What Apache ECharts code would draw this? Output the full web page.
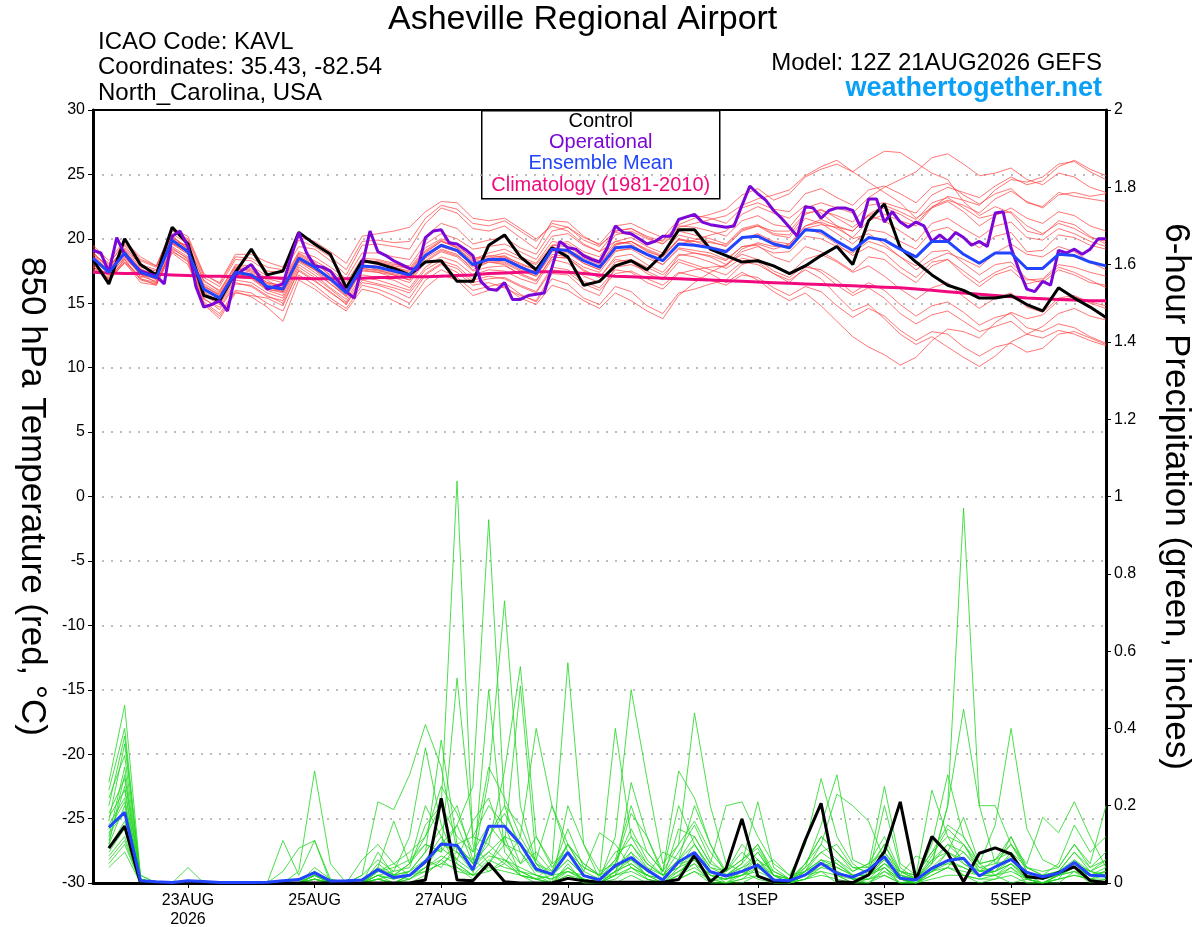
<!DOCTYPE html>
<html>
<head>
<meta charset="UTF-8">
<title>Asheville Regional Airport</title>
<script src="https://cdn.jsdelivr.net/npm/echarts@6/dist/echarts.min.js"></script>
<style>
    html, body { margin: 0; padding: 0; background: #fff; }
    #main { width: 1200px; height: 927px; }
</style>
</head>
<body>
<div id="main"></div>
<script>
// forecast hours from 12Z 21AUG2026
var tickHours = [36, 84, 132, 180, 252, 300, 348];
var tickLabels = ['23AUG\n2026', '25AUG', '27AUG', '29AUG', '1SEP', '3SEP', '5SEP'];

// 850 hPa temperature, every 6 h from hour 0
var controlTemp = [18.4,16.5,20.0,18.0,17.2,20.9,19.6,15.6,15.2,17.4, 19.2,17.2,17.5,20.5,19.6,18.8,16.2,18.3,18.1,17.7,
    17.2,18.2,18.3,16.7,16.7,19.5,20.3,18.6,17.6,19.3, 18.6,16.4,16.7,17.9,18.3,17.6,18.8,20.7,20.7,19.2,
    18.7,18.2,18.3,17.9,17.3,17.9,18.7,19.4,18.0,21.4, 22.7,19.3,18.2,17.2,16.4,16.0,15.4,15.4,15.6,14.9,
    14.4,16.2,15.4,14.7,13.9];
var meanTemp = [18.5,17.4,18.9,17.4,17.0,19.9,19.0,16.1,15.4,17.4, 17.2,16.3,16.1,18.5,17.8,16.9,15.8,17.9,17.8,17.5,
    17.2,18.7,19.5,19.1,18.0,18.4,18.4,17.8,17.3,19.2, 19.1,18.3,17.8,19.3,19.4,18.8,18.3,19.6,19.5,19.3,
    19.0,20.1,20.2,19.6,19.3,20.7,20.6,19.8,19.1,20.1, 19.9,19.2,18.6,19.8,19.8,18.8,18.1,18.9,18.9,17.7,
    17.7,18.8,18.7,18.2,17.9];
var climoTemp = [17.4,17.35,17.3,17.3,17.25,17.2,17.15,17.1,17.1,17.05, 17.0,17.0,16.95,16.95,16.9,16.9,16.9,16.95,17.0,17.0,
    17.05,17.05,17.1,17.15,17.2,17.3,17.35,17.4,17.45,17.45, 17.4,17.3,17.2,17.1,17.05,17.0,16.95,16.9,16.85,16.8,
    16.75,16.7,16.65,16.6,16.55,16.5,16.45,16.4,16.35,16.3, 16.25,16.2,16.1,16.0,15.9,15.8,15.7,15.6,15.5,15.4,
    15.35,15.3,15.25,15.2,15.2];
// operational run, every 3 h from hour 0
var operTemp = [19.1,18.9,17.4,20.1,18.8,18.1,17.5,17.3,17.1,16.5, 20.2,20.6,19.4,16.3,14.7,14.9,15.2,14.4,17.2,17.6,
    18.0,17.1,16.1,16.3,16.5,18.5,20.5,18.9,17.9,17.8, 17.5,16.7,15.9,15.4,17.9,20.6,19.0,18.7,18.3,18.0,
    17.7,17.6,20.1,20.6,20.7,19.7,19.6,19.2,18.7,16.7, 16.1,16.0,16.6,15.3,15.3,15.6,15.7,15.8,17.8,19.8,
    19.3,19.2,18.7,18.4,18.2,19.3,21.0,20.5,20.4,20.0, 19.6,19.8,20.2,20.2,21.5,21.7,21.9,21.3,21.1,21.0,
    20.9,21.0,22.6,24.1,23.5,23.0,22.2,21.6,20.9,20.2, 22.5,22.4,21.6,22.2,22.4,22.4,22.2,20.9,23.1,23.1,
    21.3,22.1,21.3,20.9,21.3,21.0,19.8,20.3,19.8,20.5, 20.1,19.5,19.8,19.4,22.0,22.1,19.3,17.6,16.1,15.9,
    16.7,16.4,19.1,18.9,19.2,18.8,19.2,20.0,20.0];

// ensemble members, temperature
var tempMembers = [
    [18.9,17.8,19.3,18.0,17.6,20.4,19.6,16.8,15.9,18.0,17.9, 17.1,16.8,19.0,18.6,17.8,16.9,18.9,18.9,18.6,18.4,20.2,
     21.2,20.8,19.6,19.9,20.1,19.3,18.8,20.6,20.9,20.1,19.6, 21.0,21.2,20.6,20.1,21.5,21.8,21.6,21.2,22.4,22.8,22.3,
     22.1,23.5,23.9,23.2,22.6,23.8,24.1,23.5,22.8,24.0,24.3, 23.4,22.7,23.5,23.9,22.8,22.5,23.6,23.3,23.1,22.9],
    [18.0,16.9,18.4,16.8,16.5,19.3,18.4,15.3,14.7,16.6,16.3, 15.5,15.2,17.8,17.0,16.1,15.1,17.0,16.8,16.4,16.0,17.6,
     18.3,17.9,16.8,17.1,16.9,16.3,15.8,17.6,17.4,16.5,16.0, 17.3,17.5,16.9,16.4,17.4,17.1,16.8,16.4,17.2,17.0,16.2,
     15.6,16.3,15.9,14.8,13.9,14.6,14.0,12.9,12.1,12.8,12.6, 11.6,10.9,11.6,11.9,11.2,11.5,12.6,12.8,12.3,11.8],
    [19.2,18.1,19.6,18.3,17.8,20.7,19.9,17.0,16.3,18.4,18.3, 17.5,17.4,19.4,19.2,18.3,17.2,19.5,19.6,19.4,19.2,21.2,
     22.4,22.0,20.8,20.6,21.0,20.1,19.2,21.4,21.3,20.2,19.5, 20.5,20.3,19.7,19.9,21.1,21.6,21.9,22.3,23.4,23.9,23.0,
     23.5,24.8,25.4,25.8,25.2,26.1,26.8,26.7,25.9,25.1,24.6, 22.9,21.8,22.5,22.0,20.6,20.3,21.4,21.1,20.2,19.6],
    [17.6,17.0,18.2,17.1,16.7,19.0,18.3,15.1,14.2,16.0,15.8, 15.0,14.4,17.2,16.4,15.4,14.6,16.4,16.1,15.6,15.0,16.8,
     17.6,17.0,16.0,16.3,16.6,15.7,15.1,16.9,16.5,15.4,14.9, 16.3,15.9,14.8,14.2,15.8,16.1,16.5,16.8,18.0,18.4,17.9,
     17.3,18.4,18.8,18.2,17.4,17.9,17.1,16.1,15.3,16.2,16.6, 15.5,14.6,15.4,15.8,14.7,14.3,15.4,15.6,15.0,14.6],
    [19.0,17.6,19.5,17.9,17.3,20.3,19.1,16.4,15.6,17.6,17.6, 16.6,16.4,18.8,18.2,17.1,16.1,18.4,18.2,17.9,17.7,19.3,
     20.0,19.6,18.4,18.9,19.2,18.6,18.1,19.8,19.6,18.8,18.3, 19.8,20.1,19.4,18.9,20.3,20.0,19.8,19.4,20.6,21.0,20.3,
     20.1,21.6,21.2,20.4,19.6,20.7,20.5,19.8,19.2,20.6,20.9, 20.1,19.3,20.2,20.5,19.0,19.1,20.3,20.1,19.5,19.2],
    [18.2,17.1,18.6,17.2,16.9,19.6,18.8,15.8,15.0,17.0,16.9, 16.0,15.6,18.2,17.4,16.5,15.5,17.5,17.4,17.0,16.6,18.2,
     19.0,18.6,17.5,17.8,17.9,17.3,16.8,18.6,18.5,17.6,17.0, 18.6,18.8,18.0,17.4,18.8,18.6,18.2,17.7,18.5,18.2,17.3,
     16.8,17.6,16.9,15.6,14.4,14.9,13.8,12.6,11.8,12.4,11.6, 10.8,10.1,10.9,12.0,12.6,13.2,14.2,14.6,14.0,13.7],
    [18.7,17.5,18.8,17.6,17.2,20.0,19.3,16.2,15.2,17.3,17.0, 16.3,15.9,18.4,17.6,17.0,15.9,17.8,18.0,17.8,17.4,18.9,
     19.8,19.4,18.5,18.6,18.9,18.4,18.0,19.5,19.8,19.0,18.6, 20.3,20.6,20.0,19.6,20.9,21.2,21.5,21.8,22.6,23.1,23.4,
     23.8,24.9,25.6,26.1,25.2,24.4,23.6,22.8,21.6,22.4,22.9, 22.1,21.0,21.8,22.4,21.6,21.2,22.1,21.8,21.0,20.6],
    [18.4,17.3,18.7,17.5,16.8,19.7,19.0,16.0,15.4,17.1,17.0, 16.1,15.8,18.3,17.6,16.5,15.6,17.6,17.4,17.2,16.8,18.3,
     19.1,18.7,17.8,18.2,18.0,17.2,16.7,18.6,18.5,17.5,17.0, 18.4,18.2,17.3,16.8,18.2,17.8,17.3,16.6,17.4,16.8,15.9,
     15.2,15.8,14.8,13.6,12.4,11.6,11.0,10.2,10.8,12.1,13.0, 12.8,12.3,13.5,14.3,13.8,14.1,15.2,15.5,15.1,14.8],
    [18.3,17.7,19.1,17.0,17.4,19.6,19.2,16.5,15.8,17.8,17.5, 16.8,16.1,18.6,18.0,17.4,16.3,18.0,17.6,17.2,16.8,18.5,
     19.2,18.8,17.6,18.2,18.1,17.5,17.1,18.8,18.6,17.8,17.4, 19.0,19.3,18.7,18.0,19.3,19.1,18.9,18.4,19.4,19.6,19.2,
     19.6,21.0,21.5,21.0,20.6,21.8,22.4,21.9,21.2,22.5,23.0, 22.6,22.0,23.1,23.7,22.9,22.4,23.4,23.6,23.3,23.5],
    [17.9,16.7,18.2,16.6,16.4,19.1,18.2,14.9,13.8,15.8,15.6, 15.4,14.8,17.6,16.8,15.8,15.0,16.6,16.4,16.0,15.4,17.2,
     18.0,17.4,16.4,16.6,16.2,15.6,15.2,17.3,17.2,16.1,15.6, 17.8,18.0,17.5,16.9,18.7,18.9,18.7,18.3,19.4,19.5,18.6,
     18.2,19.4,19.0,18.3,17.5,18.6,18.4,17.4,16.6,17.9,18.4, 17.2,16.3,17.2,17.6,16.5,16.8,17.8,17.4,16.8,16.2],
    [19.5,18.3,19.9,18.4,17.9,20.8,20.2,17.3,16.5,18.6,18.5, 17.8,17.6,19.9,19.4,18.6,17.6,19.8,19.9,19.7,19.8,21.6,
     22.6,22.3,21.2,21.0,21.4,20.6,19.8,21.2,20.9,19.9,19.4, 20.6,20.8,20.1,19.6,20.6,20.3,20.0,19.6,20.8,21.1,20.4,
     20.3,21.9,22.3,21.6,20.9,21.8,21.4,20.6,19.8,21.2,21.6, 20.8,20.1,21.0,21.3,20.1,19.9,20.8,20.4,19.8,19.4],
    [17.8,17.2,18.5,17.3,16.6,19.4,18.6,15.6,14.9,16.8,16.6, 15.8,15.4,18.0,17.2,16.2,15.3,17.2,17.0,16.8,16.2,17.8,
     18.6,18.2,17.2,17.6,17.5,16.9,16.5,18.4,18.1,17.1,16.6, 18.2,18.4,17.8,17.2,18.4,18.0,17.6,17.2,18.2,18.0,17.3,
     16.6,17.8,17.6,16.8,15.8,16.6,16.0,14.9,14.0,14.8,15.1, 14.3,13.3,13.9,14.2,13.1,12.8,13.4,13.1,12.4,11.9],
    [18.6,17.4,19.0,17.7,17.1,20.1,19.4,16.3,15.7,17.5,17.3, 16.5,16.2,18.5,17.9,16.8,15.9,18.1,18.3,18.0,17.9,19.6,
     20.4,20.0,19.2,19.4,19.6,19.0,18.4,20.2,20.4,19.5,19.0, 20.6,20.8,20.2,19.8,21.0,20.9,20.6,20.2,21.4,21.8,21.1,
     20.9,22.4,22.8,22.4,22.0,23.2,24.0,24.6,25.2,26.3,26.6, 25.8,24.9,25.1,25.5,24.6,24.2,25.1,24.8,24.0,23.6],
    [18.1,16.8,18.4,16.9,16.6,19.2,18.5,15.4,14.5,16.5,16.4, 15.6,15.0,17.5,16.7,15.9,14.9,16.8,16.5,16.2,15.8,17.3,
     18.1,17.7,16.6,16.9,17.0,16.4,15.9,17.8,17.6,16.7,16.2, 17.6,17.4,16.6,16.1,17.3,17.6,17.8,17.9,19.0,19.4,18.9,
     19.0,20.2,20.0,19.4,18.9,19.8,19.4,18.6,17.9,19.0,19.1, 18.1,17.2,18.0,18.2,16.9,16.6,17.6,17.2,16.6,16.4],
    [18.8,17.9,19.2,17.8,17.5,19.8,19.5,16.7,16.0,17.9,17.7, 16.9,16.6,18.9,18.3,17.6,16.6,18.5,18.4,18.1,17.6,19.1,
     19.9,19.3,18.2,18.5,18.7,18.0,17.6,19.4,19.0,18.1,17.6, 19.5,19.8,19.0,18.6,20.0,19.8,19.4,19.1,20.1,20.3,19.7,
     19.4,20.8,20.4,19.6,18.7,19.4,18.9,17.8,17.0,18.2,18.4, 17.5,16.6,17.4,17.9,16.8,16.9,18.0,17.8,17.4,17.1],
    [18.4,17.6,18.9,17.4,17.0,19.8,18.9,16.1,15.5,17.2,17.1, 16.2,16.0,18.4,17.8,16.9,15.7,17.7,17.6,17.4,17.1,18.6,
     19.4,19.0,18.0,18.4,18.6,17.9,17.4,19.2,19.2,18.5,18.0, 19.6,19.8,19.1,18.6,19.9,19.8,19.7,19.5,20.7,21.0,20.6,
     20.6,22.0,22.2,21.8,21.3,22.6,22.8,22.4,22.0,23.4,24.0, 23.6,23.2,24.1,24.8,24.2,24.5,25.6,26.1,25.4,24.9],
    [19.4,18.0,19.8,18.6,17.9,20.6,20.0,17.2,16.6,18.8,18.8, 18.2,17.8,20.1,19.8,19.0,18.1,20.2,20.4,20.6,20.9,22.1,
     22.9,22.8,21.6,21.4,21.6,20.8,20.0,21.0,20.6,19.6,19.0, 19.8,19.6,18.8,18.4,19.6,19.9,20.3,20.6,21.9,22.5,22.0,
     21.6,22.6,22.0,21.0,20.0,20.4,19.6,18.6,17.6,18.4,18.9, 18.4,17.8,18.9,19.6,18.8,18.6,19.4,19.0,18.2,17.6],
    [17.7,16.9,18.1,16.9,16.4,18.9,18.0,15.0,14.0,15.9,15.5, 14.7,13.6,16.8,16.1,15.2,14.4,16.1,15.8,15.2,14.6,16.2,
     17.2,16.8,15.6,16.0,16.3,15.4,14.9,16.4,16.0,15.2,14.6, 15.8,15.2,14.4,13.8,15.6,16.6,17.4,18.0,19.2,19.7,19.4,
     19.5,20.8,21.1,20.9,20.6,21.9,22.6,22.1,21.5,22.8,23.2, 22.4,21.6,21.9,22.1,21.0,20.4,21.2,20.8,20.1,19.8],
    [18.6,17.3,18.8,17.3,16.9,19.7,18.8,15.9,15.1,17.2,17.0, 16.1,15.9,18.3,17.6,16.7,15.6,17.7,17.5,17.3,17.0,18.6,
     19.4,19.0,17.9,18.3,18.2,17.6,17.1,19.0,18.9,18.1,17.6, 19.1,19.2,18.5,18.0,19.2,18.9,18.6,18.0,18.8,18.4,17.5,
     17.0,18.0,17.4,16.4,15.6,16.2,15.4,14.2,13.4,14.1,14.4, 13.6,12.8,13.2,13.6,12.6,12.3,12.9,12.6,12.1,11.7],
    [18.8,17.5,19.1,17.6,17.2,20.2,19.2,16.3,15.6,17.7,17.4, 16.6,16.3,18.7,18.1,17.2,16.2,18.2,18.1,17.8,17.5,19.0,
     19.8,19.3,18.3,18.7,18.6,18.1,17.6,19.5,19.4,18.6,18.1, 19.6,19.8,19.2,18.7,20.0,19.6,19.3,18.9,20.0,20.4,19.8,
     19.6,21.0,21.3,20.8,20.1,21.4,21.9,21.4,21.0,22.4,23.3, 23.0,22.6,23.8,24.6,24.4,24.8,25.8,26.0,25.2,24.6]
];

// 6-hour precipitation (inches), every 6 h from hour 6
var controlPrecip = [.09,.147,0,0,0,0,0,0, 0,0,0,0,0,0,0,0, 0,0,0,0,.008,.219,.008,.006,
    .051,.003,0,0,0,.012,.006,.002, .002,.002,.002,.002,.009,.072,.003,.038, .166,.018,.003,.003,.111,.206,.003,.001,
    .021,.081,.210,.008,.120,.077,.003,.077, .091,.075,.016,.012,.027,.042,.006,.001];
var meanPrecip = [.144,.183,.006,.003,.001,.006,.004,.001, .001,.001,.002,.006,.009,.027,.005,.006,
    .008,.035,.014,.020,.055,.101,.097,.034, .147,.147,.101,.036,.023,.079,.019,.008,
    .045,.066,.034,.008,.055,.079,.029,.018, .030,.046,.008,.006,.021,.051,.025,.015,
    .034,.068,.012,.008,.038,.058,.064,.018, .042,.061,.027,.016,.025,.053,.020,.018];
var precipMembers = [
    [.12,.30,.01,0,0,0,0,0, 0,0,0,0,0,.02,0,0, 0,.03,.05,.08,.12,.20,1.04,.10, .05,.12,.02,0,0,.05,0,0,
     .02,.08,.01,0,.04,.06,.01,0, .03,.01,0,0,.02,.05,.02,0, 0,.04,0,0,.03,.06,.02,0, .01,.04,0,0,.02,.03,0,.01],
    [.26,.46,.02,0,0,0,0,0, 0,0,0,0,0,0,0,0, 0,0,0,.02,.05,.10,.15,.25, .94,.20,.08,.02,0,.02,0,0,
     0,.02,0,0,.01,.03,0,0, 0,.02,0,0,.01,.03,0,0, .02,.05,.01,0,.04,.08,.17,.05, .02,0,.01,0,0,.03,.01,0],
    [.08,.14,0,0,0,0,0,0, 0,0,0,0,0,.02,0,0, 0,0,0,0,.02,.06,.10,.05, .27,.73,.20,.05,0,.02,.01,0,
     .01,.04,.02,0,.03,.05,0,0, .01,.04,.01,0,.03,.06,.02,0, 0,.03,0,.01,.05,.20,.97,.20, .05,.06,.01,0,.02,.04,.02,.02],
    [.20,.38,.01,0,0,0,0,0, 0,0,0,.11,.02,.11,.01,0, 0,.01,.02,.05,.10,.08,.53,.12, .10,.29,.56,.12,.05,.57,.10,.01,
     .03,.10,.04,0,.02,.08,.03,0, .02,.05,0,0,.03,.05,.03,.01, 0,.02,0,0,.04,.05,.08,.03, .03,.05,.01,.02,.03,.05,.01,.03],
    [.15,.22,0,0,0,0,0,0, 0,0,0,0,0,.03,0,0, .02,.21,.19,.28,.41,.30,.08,.06, .03,.05,.12,.40,.20,.10,.05,.02,
     .40,.12,.05,.02,.04,.10,.04,.02, .05,.10,.02,0,.01,.04,.06,.02, .02,.06,.01,0,.02,.04,.10,.04, .03,.08,.02,0,.01,.06,.02,.04],
    [.05,.10,0,0,0,0,0,0, 0,0,0,0,0,.01,0,0, 0,.05,.02,.03,.08,.37,.10,.05, .10,.06,.03,.01,.02,.06,.02,.01,
     .12,.50,.27,.05,.10,.44,.20,.05, .03,.06,.01,0,.02,.04,.03,.01, .01,.05,.02,0,.03,.06,.04,.02, .02,.05,.01,0,.02,.04,.02,.02],
    [.18,.27,.01,0,0,0,0,0, 0,0,0,0,.03,.29,.05,0, 0,.02,.03,.12,.35,.15,.05,.02, .50,.08,.03,.01,0,.04,.01,0,
     .02,.26,.12,.03,.29,.22,.10,.02, .05,.21,.04,.01,.02,.06,.05,.02, .03,.10,.02,.01,.03,.08,.05,.03, .04,.07,.02,.01,.03,.05,.03,.02],
    [.07,.12,0,0,0,.04,0,0, 0,0,0,0,0,.02,0,0, .06,.10,.05,.02,.06,.12,.04,.01, .05,.10,.51,.06,.02,.03,.01,0,
     .03,.06,.02,.01,.14,.12,.05,.20, .21,.12,.05,.02,.10,.27,.12,.05, .02,.05,.03,.01,.05,.10,.06,.02, .03,.06,.02,.01,.03,.04,.02,.03],
    [.10,.20,.01,0,0,0,0,0, 0,0,0,0,.01,.03,0,0, 0,.08,.02,.01,.04,.07,.05,.02, .03,.06,.02,.01,0,.20,.10,.03,
     .05,.18,.12,.02,.04,.08,.02,.01, .02,.05,.01,0,.04,.15,.28,.06, .04,.25,.05,.02,.24,.12,.05,.02, .04,.12,.03,.01,.02,.05,.03,.02],
    [.13,.18,0,0,0,0,0,0, 0,0,0,0,0,.01,0,0, 0,.02,0,.01,.04,.10,.08,.04, .08,.05,.02,.01,0,.03,.02,0,
     .03,.05,.02,0,.02,.05,.02,.01, .03,.08,.02,0,.01,.05,.04,.02, .02,.20,.04,.01,.10,.28,.12,.05, .15,.40,.14,.06,.04,.10,.05,.20],
    [.22,.33,.01,0,0,0,0,0, 0,0,0,0,0,.02,0,0, .01,.04,.16,.05,.20,.12,.06,.03, .12,.20,.15,.05,.02,.10,.03,.13,
     .10,.04,.02,.08,.06,.20,.10,.03, .08,.04,.06,.02,.03,.10,.23,.20, .16,.06,.02,.07,.05,.20,.45,.20, .20,.10,.05,.17,.13,.21,.12,.04],
    [.04,.08,0,0,0,0,0,0, 0,0,0,0,0,0,0,0, 0,.01,0,.02,.03,.05,.04,.02, .04,.03,.02,.01,.05,.08,.02,.01,
     .02,.04,.01,0,.02,.04,.01,.01, .02,.03,.01,0,.02,.03,.02,.01, .01,.03,.01,0,.02,.04,.02,.01, .02,.03,.01,0,.01,.02,.01,.01],
    [.16,.36,.02,0,0,0,0,0, 0,0,0,.03,.09,.11,0,0, 0,.03,.04,.06,.10,.08,.15,.05, .08,.12,.10,.06,.20,.08,.04,.02,
     .06,.12,.08,.03,.20,.10,.04,.03, .10,.06,.03,.01,.05,.12,.08,.03, .05,.08,.03,.02,.08,.12,.10,.05, .06,.10,.04,.02,.05,.15,.08,.12],
    [.09,.16,.01,0,0,0,0,0, 0,0,0,0,0,.02,0,0, .02,.06,.03,.04,.15,.20,.12,.08, .15,.10,.08,.03,.02,.06,.02,.01,
     .04,.08,.04,.02,.06,.10,.03,.02, .04,.06,.02,.01,.04,.08,.05,.02, .03,.06,.02,.01,.06,.08,.06,.03, .04,.06,.02,.01,.03,.08,.03,.06],
    [.11,.25,0,0,0,0,0,0, 0,0,0,0,0,.01,0,0, 0,.02,.01,.03,.06,.04,.10,.12, .20,.15,.05,.12,.04,.10,.05,.02,
     .04,.06,.03,.01,.05,.06,.02,.01, .03,.05,.02,.01,.03,.06,.04,.02, .02,.04,.01,0,.03,.05,.04,.02, .03,.05,.02,.01,.02,.04,.02,.03],
    [.06,.11,0,0,0,0,0,0, 0,0,0,0,0,.01,0,0, 0,.01,0,.02,.04,.06,.03,.02, .06,.04,.03,.02,.01,.03,.01,0,
     .02,.03,.01,0,.01,.03,.01,0, .01,.02,0,0,.01,.02,.01,0, .01,.02,0,0,.01,.02,.02,.01, .01,.02,0,0,.01,.02,.01,.02],
    [.10,.28,.01,0,0,0,0,0, 0,0,0,0,0,.02,0,0, 0,.04,.02,.03,.08,.14,.20,.06, .12,.18,.10,.04,.02,.08,.02,.01,
     .05,.14,.06,.02,.08,.15,.06,.02, .04,.08,.02,.01,.03,.08,.10,.04, .03,.08,.02,.01,.06,.10,.08,.04, .05,.10,.03,.01,.03,.06,.03,.05],
    [.17,.24,0,0,0,0,0,0, 0,0,0,0,0,.04,.01,0, 0,.02,.01,.02,.06,.09,.06,.16, .22,.10,.05,.08,.03,.14,.04,.02,
     .08,.10,.05,.02,.06,.12,.05,.03, .06,.09,.02,0,.05,.10,.06,.03, .05,.12,.03,.01,.07,.14,.10,.03, .06,.08,.04,.03,.04,.10,.04,.08],
    [.14,.21,0,0,0,0,0,0, 0,0,0,0,0,.01,0,0, 0,.01,0,.01,.03,.05,.08,.03, .07,.06,.04,.02,.01,.04,.01,0,
     .03,.05,.02,.01,.03,.06,.02,.01, .02,.04,.01,0,.02,.05,.03,.01, .02,.04,.01,0,.03,.04,.03,.02, .02,.04,.01,0,.02,.03,.02,.02],
    [.24,.40,.01,0,0,0,0,0, 0,0,0,0,0,.02,0,0, 0,.03,.02,.05,.12,.25,.18,.08, .30,.22,.12,.05,.03,.10,.03,.01,
     .06,.20,.08,.03,.10,.16,.08,.03, .06,.10,.03,.01,.05,.12,.08,.04, .04,.10,.03,.02,.08,.15,.12,.05, .06,.12,.04,.02,.03,.08,.04,.06]
];

var FONT = '"Liberation Sans", Arial, Helvetica, sans-serif';

function toPairs(vals, startHour, stepHours) {
    return vals.map(function (v, k) { return [startHour + k * stepHours, v]; });
}

function lineSeries(data, axis, color, width, z, opacity) {
    return {
        type: 'line',
        yAxisIndex: axis,
        data: data,
        symbol: 'none',
        silent: true,
        z: z,
        lineStyle: { color: color, width: width, opacity: opacity == null ? 1 : opacity }
    };
}

var series = [];
// red = temperature members, green = precip members
tempMembers.forEach(function (m) {
    series.push(lineSeries(toPairs(m, 0, 6), 0, '#ff4040', 0.9, 2, 0.8));
});
precipMembers.forEach(function (m) {
    series.push(lineSeries(toPairs(m, 6, 6), 1, '#22d822', 0.9, 2, 0.9));
});
series.push(lineSeries(toPairs(climoTemp, 0, 6), 0, '#f00a7e', 3, 4));
series.push(lineSeries(toPairs(controlTemp, 0, 6), 0, '#000000', 3, 5));
series.push(lineSeries(toPairs(controlPrecip, 6, 6), 1, '#000000', 3, 5));
series.push(lineSeries(toPairs(operTemp, 0, 3), 0, '#7a06d8', 3, 6));
series.push(lineSeries(toPairs(meanTemp, 0, 6), 0, '#2244ff', 3, 7));
series.push(lineSeries(toPairs(meanPrecip, 6, 6), 1, '#2244ff', 3, 7));

var myChart = echarts.init(document.getElementById('main'));

option = {
    animation: false,
    backgroundColor: '#fff',
    textStyle: { fontFamily: FONT },
    grid: {
        left: 93, right: 94, top: 110, bottom: 44,
        outerBoundsMode: 'none',
        show: true, borderColor: '#000', borderWidth: 2, backgroundColor: 'transparent'
    },
    xAxis: {
        type: 'value',
        min: 0,
        max: 384,
        axisLine: { show: true, onZero: false, lineStyle: { color: '#000', width: 3 } },
        axisTick: { show: true, customValues: tickHours, length: 5, lineStyle: { color: '#000' } },
        axisLabel: {
            customValues: tickHours,
            color: '#000', fontSize: 16, fontFamily: FONT, margin: 8, lineHeight: 19,
            formatter: function (v) {
                var k = tickHours.indexOf(v);
                return k >= 0 ? tickLabels[k] : '';
            }
        },
        splitLine: { show: false }
    },
    yAxis: [
        {
            type: 'value',
            min: -30, max: 30, interval: 5,
            position: 'left',
            name: '850 hPa Temperature (red, \u00B0C)',
            nameLocation: 'middle',
            nameRotate: -90,
            nameGap: 44,
            nameTextStyle: { color: '#000', fontSize: 35, fontFamily: FONT },
            axisLine: { show: true, onZero: false, lineStyle: { color: '#000', width: 3 } },
            axisTick: { show: true, length: 5, lineStyle: { color: '#000' } },
            axisLabel: { color: '#000', fontSize: 16, fontFamily: FONT, margin: 8 },
            splitLine: {
                show: true, showMinLine: false, showMaxLine: false,
                lineStyle: { color: '#a8a8a8', width: 1.5, type: [2, 7] }
            }
        },
        {
            type: 'value',
            min: 0, max: 2, interval: 0.2,
            position: 'right',
            name: '6-hour Precipitation (green, inches)',
            nameLocation: 'middle',
            nameRotate: -90,
            nameGap: 52,
            nameTextStyle: { color: '#000', fontSize: 35, fontFamily: FONT },
            axisLine: { show: true, onZero: false, lineStyle: { color: '#000', width: 3 } },
            axisTick: { show: true, length: 5, lineStyle: { color: '#000' } },
            axisLabel: { color: '#000', fontSize: 16, fontFamily: FONT, margin: 8 },
            splitLine: { show: false }
        }
    ],
    graphic: [
        { type: 'text', left: 388, top: 3, style: { text: 'Asheville Regional Airport', fill: '#000', font: '34px ' + FONT } },
        { type: 'text', left: 98, top: 30, style: { text: 'ICAO Code: KAVL', fill: '#000', font: '24px ' + FONT } },
        { type: 'text', left: 98, top: 55, style: { text: 'Coordinates: 35.43, -82.54', fill: '#000', font: '24px ' + FONT } },
        { type: 'text', left: 98, top: 81, style: { text: 'North_Carolina, USA', fill: '#000', font: '24px ' + FONT } },
        { type: 'text', right: 98, top: 51, style: { text: 'Model: 12Z 21AUG2026 GEFS', fill: '#000', font: '24px ' + FONT } },
        { type: 'text', right: 98, top: 75, style: { text: 'weathertogether.net', fill: '#0aa0f5', font: 'bold 27px ' + FONT } },
        {
            type: 'group', left: 481, top: 110, z: 100,
            children: [
                { type: 'rect', shape: { x: 0, y: 0, width: 238, height: 88 }, style: { fill: '#fff', stroke: '#000', lineWidth: 1.5 } },
                { type: 'text', style: { text: 'Control', x: 119, y: 11, textAlign: 'center', textVerticalAlign: 'middle', fill: '#000', font: '20px ' + FONT } },
                { type: 'text', style: { text: 'Operational', x: 119, y: 32, textAlign: 'center', textVerticalAlign: 'middle', fill: '#7a06d8', font: '20px ' + FONT } },
                { type: 'text', style: { text: 'Ensemble Mean', x: 119, y: 53, textAlign: 'center', textVerticalAlign: 'middle', fill: '#2244ff', font: '20px ' + FONT } },
                { type: 'text', style: { text: 'Climatology (1981-2010)', x: 119, y: 75, textAlign: 'center', textVerticalAlign: 'middle', fill: '#f00a7e', font: '20px ' + FONT } }
            ]
        }
    ],
    series: series
};

myChart.setOption(option);
</script>
</body>
</html>
